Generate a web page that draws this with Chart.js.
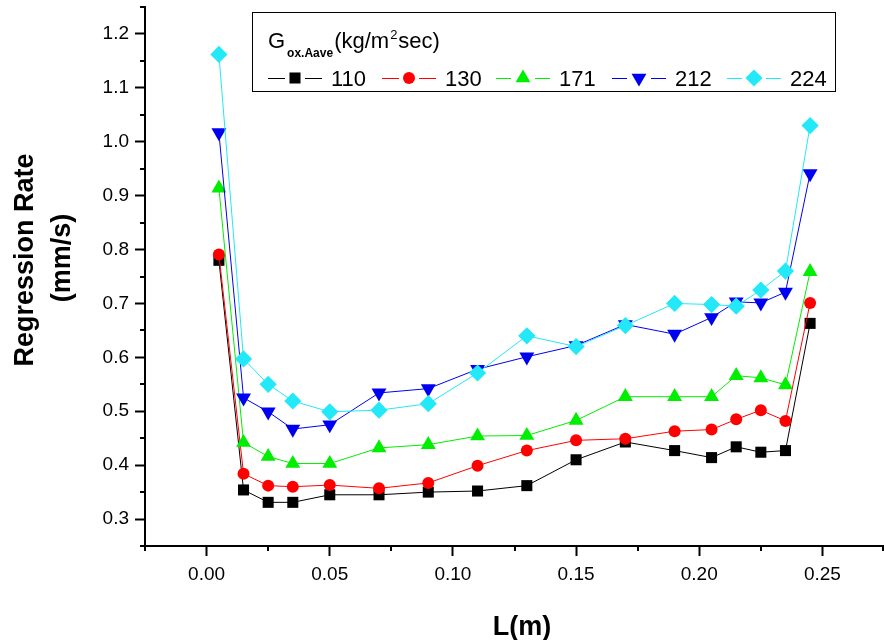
<!DOCTYPE html>
<html><head><meta charset="utf-8">
<script src="https://cdn.jsdelivr.net/npm/chart.js@4.4.1/dist/chart.umd.min.js"></script>
<style>html,body{margin:0;padding:0;background:#fff;}#wrap{position:relative;width:884px;height:640px;}</style>
</head><body><div id="wrap"><canvas id="c" width="884" height="640"></canvas></div>
<script>
// ---- data ----
const positionsL = [0.005, 0.015, 0.025, 0.035, 0.05, 0.07, 0.09, 0.11, 0.13, 0.15, 0.17, 0.19, 0.205, 0.215, 0.225, 0.235, 0.245];
const seriesNames = ['110', '130', '171', '212', '224'];
const rate110 = [0.780, 0.354, 0.331, 0.331, 0.345, 0.345, 0.350, 0.352, 0.362, 0.410, 0.443, 0.427, 0.414, 0.434, 0.424, 0.427, 0.663];
const rate130 = [0.791, 0.384, 0.362, 0.360, 0.363, 0.357, 0.367, 0.399, 0.427, 0.446, 0.449, 0.463, 0.466, 0.485, 0.502, 0.482, 0.701];
const rate171 = [0.914, 0.442, 0.416, 0.403, 0.403, 0.432, 0.438, 0.454, 0.455, 0.483, 0.527, 0.527, 0.527, 0.566, 0.562, 0.549, 0.759];
const rate212 = [1.017, 0.525, 0.499, 0.467, 0.475, 0.534, 0.542, 0.578, 0.601, 0.622, 0.661, 0.643, 0.674, 0.703, 0.701, 0.721, 0.941];
const rate224 = [1.162, 0.597, 0.550, 0.519, 0.499, 0.502, 0.514, 0.571, 0.640, 0.620, 0.659, 0.700, 0.698, 0.695, 0.725, 0.760, 1.030];
const xTickValues = [0.00, 0.05, 0.10, 0.15, 0.20, 0.25];
const xTickLabels = ['0.00', '0.05', '0.10', '0.15', '0.20', '0.25'];
const yTickValues = [0.3, 0.4, 0.5, 0.6, 0.7, 0.8, 0.9, 1.0, 1.1, 1.2];
const yTickLabels = ['0.3', '0.4', '0.5', '0.6', '0.7', '0.8', '0.9', '1.0', '1.1', '1.2'];
const xMinorTicks = [-0.025, 0.025, 0.075, 0.125, 0.175, 0.225, 0.275];
const yMinorTicks = [0.25, 0.35, 0.45, 0.55, 0.65, 0.75, 0.85, 0.95, 1.05, 1.15, 1.25];

// ---- styles ----
const allRates = [rate110, rate130, rate171, rate212, rate224];
const colors = ['#000000', '#ff0000', '#00ee00', '#0000f0', '#22e8f8'];
const styles = [
  {pointStyle: 'rect', radius: 7.8, rotation: 0},
  {pointStyle: 'circle', radius: 6, rotation: 0},
  {pointStyle: 'triangle', radius: 8.6, rotation: 0},
  {pointStyle: 'triangle', radius: 8.6, rotation: 180},
  {pointStyle: 'rectRot', radius: 8.6, rotation: 0}
];
const FONT = 'Arial, "Liberation Sans", sans-serif';

const datasets = seriesNames.map((name, i) => ({
  label: name,
  data: positionsL.map((x, j) => ({x: x, y: allRates[i][j]})),
  borderColor: colors[i],
  backgroundColor: colors[i],
  borderWidth: 1,
  pointStyle: styles[i].pointStyle,
  pointRadius: styles[i].radius,
  pointRotation: styles[i].rotation,
  pointBorderWidth: 0,
  pointHoverRadius: styles[i].radius,
  tension: 0,
  order: seriesNames.length - 1 - i,
  clip: false
}));

const extras = {
  id: 'extras',
  afterDraw(chart) {
    const ctx = chart.ctx;
    const xs = chart.scales.x, ys = chart.scales.y;
    const ca = chart.chartArea;
    ctx.save();
    // minor ticks
    ctx.strokeStyle = '#000'; ctx.lineWidth = 2;
    ctx.beginPath();
    xMinorTicks.forEach(v => { const p = Math.min(Math.round(xs.getPixelForValue(v)), 883); ctx.moveTo(p, ca.bottom); ctx.lineTo(p, ca.bottom + 5); });
    yMinorTicks.forEach(v => { const p = Math.max(Math.round(ys.getPixelForValue(v)), 1); ctx.moveTo(ca.left - 5, p); ctx.lineTo(ca.left, p); });
    ctx.stroke();

    // axis titles
    ctx.fillStyle = '#000';
    ctx.font = 'bold 27px ' + FONT;
    ctx.textAlign = 'center'; ctx.textBaseline = 'alphabetic';
    ctx.save(); ctx.translate(33, 260); ctx.rotate(-Math.PI / 2); ctx.fillText('Regression Rate', 0, 0); ctx.restore();
    ctx.save(); ctx.translate(70, 258); ctx.rotate(-Math.PI / 2); ctx.fillText('(mm/s)', 0, 0); ctx.restore();
    ctx.font = 'bold 27px ' + FONT;
    ctx.fillText('L(m)', 522, 635);

    // legend box
    ctx.fillStyle = '#fff';
    ctx.fillRect(252, 12, 583, 79);
    ctx.strokeStyle = '#000'; ctx.lineWidth = 1;
    ctx.strokeRect(252.5, 12.5, 583, 79);
    ctx.fillStyle = '#000';
    ctx.textAlign = 'left';
    let x = 268;
    ctx.font = '22px ' + FONT; ctx.fillText('G', x, 48); x += ctx.measureText('G').width + 2;
    ctx.font = 'bold 12px ' + FONT; ctx.fillText('ox.Aave', x, 57); x += ctx.measureText('ox.Aave').width + 1;
    ctx.font = '22px ' + FONT; ctx.fillText('(kg/m', x, 48); x += ctx.measureText('(kg/m').width + 1;
    ctx.font = '13px ' + FONT; ctx.fillText('2', x, 39); x += ctx.measureText('2').width + 1;
    ctx.font = '22px ' + FONT; ctx.fillText('sec)', x, 48);

    const centers = [295, 409, 523, 639, 754];
    seriesNames.forEach((name, i) => {
      const c = centers[i], cy = 78;
      const r = styles[i].radius;
      const gap = (styles[i].pointStyle === 'rect' ? 6 : styles[i].pointStyle === 'circle' ? 6 : 8) + 4;
      ctx.strokeStyle = colors[i]; ctx.lineWidth = 1;
      ctx.beginPath();
      ctx.moveTo(c - 27, cy + 0.5); ctx.lineTo(c - gap, cy + 0.5);
      ctx.moveTo(c + gap, cy + 0.5); ctx.lineTo(c + 27, cy + 0.5);
      ctx.stroke();
      ctx.fillStyle = colors[i];
      Chart.helpers.drawPoint(ctx, {pointStyle: styles[i].pointStyle, radius: r, rotation: styles[i].rotation, borderWidth: 0}, c, cy);
      ctx.fillStyle = '#000';
      ctx.font = '22px ' + FONT;
      ctx.fillText(name, c + 36, 86);
    });
    ctx.restore();
  }
};

new Chart(document.getElementById('c'), {
  type: 'line',
  data: {datasets: datasets},
  options: {
    responsive: false,
    animation: false,
    devicePixelRatio: 1,
    layout: {autoPadding: false, padding: {top: 7, right: 0, left: 0, bottom: 0}},
    plugins: {legend: {display: false}, tooltip: {enabled: false}},
    scales: {
      x: {
        type: 'linear', min: -0.025, max: 0.275,
        afterBuildTicks: s => { s.ticks = xTickValues.map(v => ({value: v})); },
        afterFit: s => { s.height = 94; s.paddingLeft = 0; s.paddingRight = 0; },
        ticks: {
          autoSkip: false, maxRotation: 0, padding: 7, color: '#000',
          font: {family: FONT, size: 19},
          callback: (v) => { const k = xTickValues.findIndex(t => Math.abs(t - v) < 1e-9); return k >= 0 ? xTickLabels[k] : ''; }
        },
        grid: {display: true, drawOnChartArea: false, drawTicks: true, tickLength: 10, tickWidth: 2, tickColor: '#000'},
        border: {display: true, color: '#000', width: 2}
      },
      y: {
        type: 'linear', min: 0.25, max: 1.25,
        afterBuildTicks: s => { s.ticks = yTickValues.map(v => ({value: v})); },
        afterFit: s => { s.width = 145; s.paddingTop = 0; s.paddingBottom = 0; },
        ticks: {
          autoSkip: false, padding: 6, color: '#000',
          font: {family: FONT, size: 19},
          callback: (v) => { const k = yTickValues.findIndex(t => Math.abs(t - v) < 1e-9); return k >= 0 ? yTickLabels[k] : ''; }
        },
        grid: {display: true, drawOnChartArea: false, drawTicks: true, tickLength: 10, tickWidth: 2, tickColor: '#000'},
        border: {display: true, color: '#000', width: 2}
      }
    }
  },
  plugins: [extras]
});
</script>
</body></html>
